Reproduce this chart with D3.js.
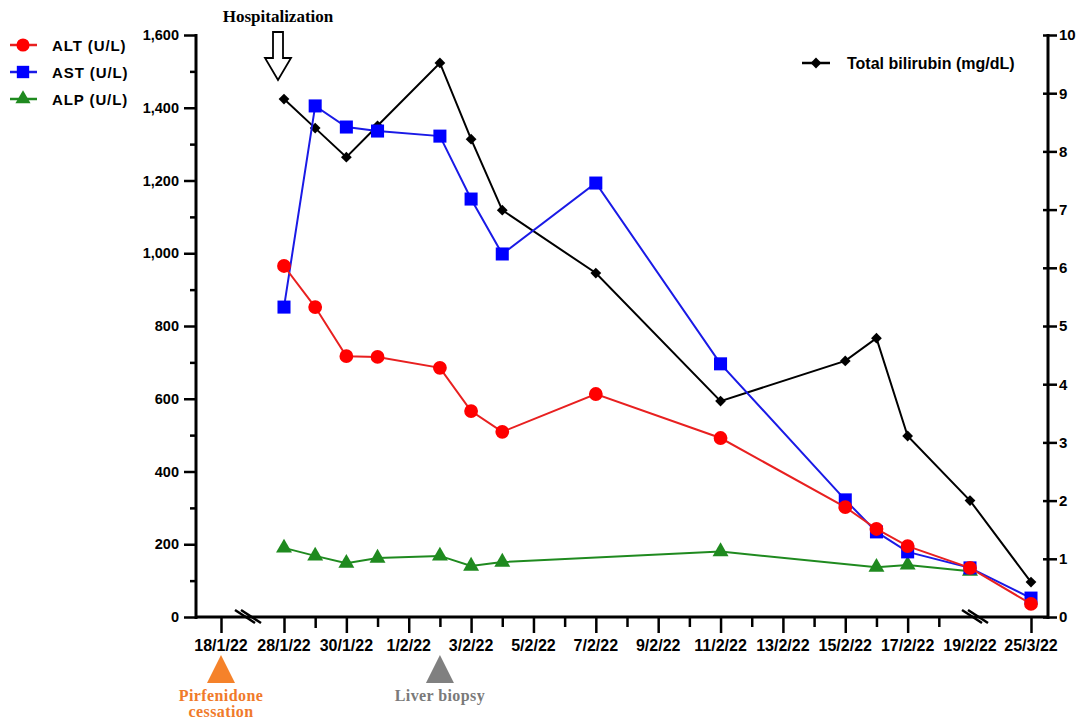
<!DOCTYPE html>
<html>
<head>
<meta charset="utf-8">
<script src="https://cdn.jsdelivr.net/npm/d3@7"></script>
<style>
  body { margin: 0; background: #fff; }
  svg text { font-family: "Liberation Sans", Arial, sans-serif; font-weight: bold; }
</style>
</head>
<body>
<div id="chart"></div>
<script>
// lab values by sampling date
const dates = ["28/1/22", "29/1/22", "30/1/22", "31/1/22", "2/2/22", "3/2/22", "4/2/22",
               "7/2/22", "11/2/22", "15/2/22", "16/2/22", "17/2/22", "19/2/22", "25/3/22"];
const alt = [965, 852, 717, 715, 685, 566, 509, 613, 492, 302, 242, 195, 135, 36];
const ast = [852, 1405, 1347, 1336, 1322, 1149, 998, 1193, 696, 322, 234, 179, 135, 52];
const alp = [190, 168, 148, 162, 168, 140, 151, null, 180, null, 137, 143, 126, null];
const bilirubin = [8.9, 8.4, 7.9, 8.44, 9.52, 8.21, 6.99, 5.91, 3.71, 4.40, 4.79, 3.11, 2.0, 0.6];

const tickLabels = ["18/1/22", "28/1/22", "30/1/22", "1/2/22", "3/2/22", "5/2/22", "7/2/22", "9/2/22",
                    "11/2/22", "13/2/22", "15/2/22", "17/2/22", "19/2/22", "25/3/22"];
const minorTicks = ["29/1/22", "31/1/22", "2/2/22", "4/2/22", "6/2/22", "8/2/22", "10/2/22",
                    "12/2/22", "14/2/22", "16/2/22", "18/2/22"];
const leftTicks = [0, 200, 400, 600, 800, 1000, 1200, 1400, 1600];
const leftMinor = [100, 300, 500, 700, 900, 1100, 1300, 1500];
const rightTicks = [0, 1, 2, 3, 4, 5, 6, 7, 8, 9, 10];

(function () {
  const width = 1085, height = 721;
  const parse = d3.timeParse("%d/%m/%y");
  const serif = "'Liberation Serif', 'Times New Roman', serif";
  const svg = d3.select("#chart").append("svg")
    .attr("width", width).attr("height", height);

  // broken time axis: 18/1 | 28/1 .. 19/2 | 25/3
  const x = d3.scaleTime()
    .domain([parse("18/1/22"), parse("28/1/22"), parse("19/2/22"), parse("25/3/22")])
    .range([221, 284, 970, 1031]);
  const yL = d3.scaleLinear().domain([0, 1600]).range([617, 35]);
  const yR = d3.scaleLinear().domain([0, 10]).range([617, 35]);

  const axisY = 617;

  // x axis
  const gx = svg.append("g").attr("transform", `translate(0,${axisY})`);
  gx.append("g").call(d3.axisBottom(x).tickValues(minorTicks.map(parse)).tickSize(10).tickFormat(""));
  gx.append("g").call(d3.axisBottom(x)
      .tickValues(tickLabels.filter(d => d !== "19/2/22").map(parse))
      .tickSize(16).tickFormat(""));
  gx.append("g").selectAll("text").data(tickLabels).join("text")
    .attr("x", d => x(parse(d))).attr("y", 34)
    .attr("text-anchor", "middle").style("font-size", "16px")
    .text(d => d);
  gx.selectAll(".domain").remove();
  gx.selectAll(".tick line").attr("stroke", "#000").attr("stroke-width", 2.5);
  gx.select(".tick line").attr("y2", 11);
  gx.append("line").attr("x1", 195).attr("x2", 1049).attr("stroke", "#000").attr("stroke-width", 3);

  // break marks
  [[235, 610], [962, 610]].forEach(([bx, by]) => {
    [0, 6].forEach(o => {
      svg.append("line")
        .attr("x1", bx + o).attr("y1", by).attr("x2", bx + o + 20).attr("y2", by + 13)
        .attr("stroke", "#000").attr("stroke-width", 2.5);
    });
  });

  // left axis
  const gl = svg.append("g").attr("transform", "translate(196,0)");
  gl.append("g").call(d3.axisLeft(yL).tickValues(leftMinor).tickSize(6).tickFormat(""));
  gl.append("g").call(d3.axisLeft(yL).tickValues(leftTicks).tickSize(12).tickPadding(5).tickFormat(d3.format(",")));
  gl.selectAll(".domain").remove();
  gl.selectAll(".tick line").attr("stroke", "#000").attr("stroke-width", 2.5);
  gl.selectAll("text").style("font-size", "14.5px").attr("fill", "#000");
  gl.append("line").attr("y1", 34).attr("y2", 619).attr("stroke", "#000").attr("stroke-width", 3);

  // right axis
  const gr = svg.append("g").attr("transform", "translate(1048,0)");
  gr.call(d3.axisRight(yR).tickValues(rightTicks).tickSize(9).tickPadding(2));
  gr.selectAll(".domain").remove();
  gr.selectAll(".tick line").attr("x1", -5).attr("stroke", "#000").attr("stroke-width", 2.5);
  gr.selectAll("text").style("font-size", "15px").attr("fill", "#000");
  gr.append("line").attr("y1", 34).attr("y2", 619).attr("stroke", "#000").attr("stroke-width", 3);

  const rows = dates.map((d, i) => ({
    date: parse(d), alt: alt[i], ast: ast[i], alp: alp[i], bil: bilirubin[i]
  }));

  const series = [
    { key: "alp", scale: yL, line: "#1f8a1f", fill: "#1f8a1f", shape: d3.symbolTriangle, size: 110, rot: 0 },
    { key: "bil", scale: yR, line: "#000", fill: "#000", shape: d3.symbolSquare, size: 58, rot: 45 },
    { key: "ast", scale: yL, line: "#1a1ae6", fill: "#0000ff", shape: d3.symbolSquare, size: 170, rot: 0 },
    { key: "alt", scale: yL, line: "#e82020", fill: "#ff0000", shape: d3.symbolCircle, size: 150, rot: 0 }
  ];

  series.forEach(s => {
    const pts = rows.filter(r => r[s.key] != null);
    const line = d3.line().x(r => x(r.date)).y(r => s.scale(r[s.key]));
    svg.append("path").datum(pts)
      .attr("d", line).attr("fill", "none")
      .attr("stroke", s.line).attr("stroke-width", 2);
    svg.append("g").selectAll("path").data(pts).join("path")
      .attr("transform", r => `translate(${x(r.date)},${s.scale(r[s.key])}) rotate(${s.rot})`)
      .attr("d", d3.symbol(s.shape, s.size))
      .attr("fill", s.fill);
  });

  // legends
  const leftLegend = [
    { label: "ALT (U/L)", s: series[3] },
    { label: "AST (U/L)", s: series[2] },
    { label: "ALP (U/L)", s: series[0] }
  ];
  leftLegend.forEach((d, i) => {
    const ly = 45 + i * 27;
    svg.append("line").attr("x1", 10).attr("x2", 37).attr("y1", ly).attr("y2", ly)
      .attr("stroke", d.s.line).attr("stroke-width", 2.5);
    svg.append("path").attr("transform", `translate(23,${ly})`)
      .attr("d", d3.symbol(d.s.shape, d.s.size * 0.9)).attr("fill", d.s.fill);
    svg.append("text").attr("x", 52).attr("y", ly + 5.5)
      .style("font-size", "15px").style("letter-spacing", "0.9px").text(d.label);
  });

  svg.append("line").attr("x1", 802).attr("x2", 830).attr("y1", 63).attr("y2", 63)
    .attr("stroke", "#000").attr("stroke-width", 2.5);
  svg.append("path").attr("transform", "translate(816,63) rotate(45)")
    .attr("d", d3.symbol(d3.symbolSquare, 58)).attr("fill", "#000");
  svg.append("text").attr("x", 847).attr("y", 68.5)
    .style("font-size", "16px").text("Total bilirubin (mg/dL)");

  // hospitalization arrow
  const hx = x(parse("28/1/22")) - 6;
  svg.append("text").attr("x", hx).attr("y", 22).attr("text-anchor", "middle")
    .style("font-family", serif).style("font-size", "17px").text("Hospitalization");
  svg.append("path")
    .attr("d", `M${hx - 5},32 L${hx + 5},32 L${hx + 5},58 L${hx + 13},58 L${hx},80 L${hx - 13},58 L${hx - 5},58 Z`)
    .attr("fill", "#fff").attr("stroke", "#000").attr("stroke-width", 1.8);

  // event markers under the axis
  const events = [
    { date: "18/1/22", lines: ["Pirfenidone", "cessation"], color: "#f5822a", text: "#f07a2a" },
    { date: "2/2/22", lines: ["Liver biopsy"], color: "#808080", text: "#7a7a7a" }
  ];
  events.forEach(ev => {
    const ex = x(parse(ev.date));
    svg.append("path").attr("d", `M${ex},655 L${ex + 14},683 L${ex - 14},683 Z`).attr("fill", ev.color);
    ev.lines.forEach((t, i) => {
      svg.append("text").attr("x", ex).attr("y", 701 + i * 16).attr("text-anchor", "middle")
        .style("font-family", serif).style("font-size", "16px")
        .style("letter-spacing", "0.4px").attr("fill", ev.text).text(t);
    });
  });
})();
</script>
</body>
</html>
